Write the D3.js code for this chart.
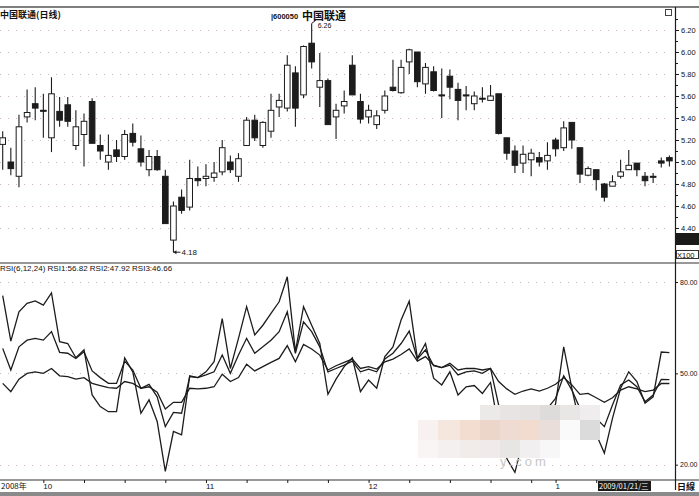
<!DOCTYPE html>
<html><head><meta charset="utf-8">
<script src="https://cdn.jsdelivr.net/npm/d3@7/dist/d3.min.js"></script>
<style>
html,body{margin:0;padding:0;background:#fff;}
svg{display:block;}
text{font-family:"Liberation Sans",Arial,sans-serif;fill:#111;}
.cjk{font-family:"Noto Sans CJK SC",sans-serif;}
</style></head>
<body>
<script>
const dates = ["2008-09-22","2008-09-23","2008-09-24","2008-09-25","2008-09-26","2008-09-29","2008-09-30",
"2008-10-08","2008-10-09","2008-10-10","2008-10-13","2008-10-14","2008-10-15","2008-10-16","2008-10-17",
"2008-10-20","2008-10-21","2008-10-22","2008-10-23","2008-10-24","2008-10-27","2008-10-28","2008-10-29","2008-10-30","2008-10-31",
"2008-11-03","2008-11-04","2008-11-05","2008-11-06","2008-11-07","2008-11-10","2008-11-11","2008-11-12","2008-11-13","2008-11-14",
"2008-11-17","2008-11-18","2008-11-19","2008-11-20","2008-11-21","2008-11-24","2008-11-25","2008-11-26","2008-11-27","2008-11-28",
"2008-12-01","2008-12-02","2008-12-03","2008-12-04","2008-12-05","2008-12-08","2008-12-09","2008-12-10","2008-12-11","2008-12-12",
"2008-12-15","2008-12-16","2008-12-17","2008-12-18","2008-12-19","2008-12-22","2008-12-23","2008-12-24","2008-12-25","2008-12-26",
"2008-12-29","2008-12-30","2008-12-31","2009-01-05","2009-01-06","2009-01-07","2009-01-08","2009-01-09",
"2009-01-12","2009-01-13","2009-01-14","2009-01-15","2009-01-16","2009-01-19","2009-01-20","2009-01-21","2009-01-22","2009-01-23"];
const open  = [5.16,5.00,4.87,5.41,5.53,5.47,5.22,5.46,5.52,5.15,5.25,5.55,5.15,5.00,5.11,5.05,5.26,5.12,4.93,5.05,4.87,4.29,4.68,4.59,4.85,4.85,4.86,4.91,5.00,4.87,5.15,5.38,5.15,5.28,5.50,5.49,5.81,5.61,6.08,5.68,5.74,5.41,5.51,5.88,5.55,5.41,5.34,5.47,5.68,5.63,5.91,6.00,5.71,5.82,5.61,5.78,5.66,5.61,5.53,5.58,5.56,5.62,5.22,5.10,4.99,5.02,5.04,5.01,5.20,5.13,5.36,5.13,4.88,4.93,4.80,4.78,4.87,4.93,4.99,4.87,4.87,5.01,5.04];
const high  = [5.28,5.13,5.43,5.66,5.68,5.62,5.77,5.59,5.59,5.47,5.44,5.58,5.25,5.25,5.20,5.29,5.35,5.24,5.11,5.11,4.93,4.64,4.75,5.02,4.96,4.98,5.00,5.20,5.06,5.08,5.41,5.43,5.37,5.62,5.62,5.97,5.87,6.06,6.26,5.99,5.76,5.53,5.65,5.97,5.62,5.52,5.47,5.65,5.93,5.93,6.03,6.00,5.90,5.87,5.85,5.84,5.72,5.69,5.64,5.68,5.70,5.62,5.22,5.15,5.15,5.12,5.09,5.18,5.22,5.37,5.36,5.13,4.96,4.93,4.81,4.88,5.02,5.11,4.99,4.91,4.90,5.04,5.06];
const low   = [4.93,4.88,4.77,5.36,5.38,5.22,5.09,5.32,5.32,5.11,4.96,5.17,5.02,4.93,5.00,5.02,5.14,4.96,4.87,4.92,4.44,4.18,4.53,4.56,4.78,4.78,4.82,4.88,4.90,4.82,5.15,5.19,5.13,5.22,5.41,5.46,5.32,5.58,5.85,5.50,5.34,5.21,5.44,5.61,5.35,5.35,5.30,5.44,5.64,5.62,5.80,5.68,5.62,5.64,5.40,5.57,5.38,5.47,5.47,5.54,5.56,5.25,5.02,4.90,4.90,4.87,4.96,4.93,5.05,5.10,5.12,4.81,4.87,4.74,4.64,4.78,4.85,4.93,4.87,4.78,4.81,4.95,4.96];
const close = [5.22,4.94,5.32,5.45,5.49,5.47,5.62,5.38,5.37,5.32,5.37,5.17,5.10,5.06,5.05,5.25,5.18,5.00,5.05,4.93,4.44,4.60,4.56,4.85,4.83,4.87,4.90,5.13,4.93,5.03,5.38,5.22,5.36,5.47,5.56,5.88,5.49,6.05,5.91,5.74,5.34,5.47,5.55,5.61,5.39,5.47,5.42,5.60,5.65,5.86,6.02,5.73,5.86,5.65,5.61,5.68,5.56,5.61,5.60,5.58,5.60,5.26,5.08,4.97,5.07,5.08,5.00,5.06,5.12,5.31,5.20,4.89,4.94,4.84,4.68,4.82,4.91,4.97,4.93,4.83,4.87,4.99,5.01];
const rsi1 = [75.5,60.6,70.2,73.0,73.8,72.4,76.4,60.4,59.8,55.1,57.7,42.9,39.1,37.4,37.4,55.1,50.5,36.9,41.3,34.2,17.8,30.9,29.8,49.2,48.6,50.5,53.8,68.0,51.6,61.5,71.9,62.6,65.8,69.7,73.5,81.7,57.1,71.9,65.8,59.8,43.1,48.1,52.2,55.1,44.0,47.8,45.1,55.5,58.7,67.5,73.7,54.9,59.8,48.4,46.2,50.5,42.9,45.6,46.0,43.4,47.0,32.0,22.0,17.5,28.0,30.0,28.0,33.0,40.0,58.7,45.1,33.0,36.0,30.0,23.8,35.2,45.1,50.5,47.3,40.2,42.3,57.0,56.82];
const rsi2 = [58.2,51.1,58.7,60.9,61.5,60.9,63.7,56.9,56.6,54.9,57.1,50.8,48.6,46.7,46.7,54.0,51.1,45.1,46.4,42.3,32.5,37.2,36.9,48.9,48.6,49.5,50.5,56.0,50.0,56.0,61.5,56.6,58.7,60.9,63.7,70.2,56.6,66.9,63.7,58.7,50.5,51.6,52.7,54.0,50.5,51.4,50.5,54.7,56.6,59.8,63.9,54.7,57.7,52.5,51.9,52.7,49.5,50.5,50.8,50.0,51.6,39.6,32.0,28.7,32.0,33.1,35.2,38.5,41.8,49.2,44.5,38.5,38.5,35.2,32.5,39.6,46.2,47.8,45.6,40.7,42.9,48.0,47.92];
const rsi3 = [46.7,44.0,48.1,50.0,50.5,50.0,51.6,49.2,48.9,48.1,48.6,46.7,46.0,45.3,45.1,47.3,46.7,45.1,45.6,43.8,38.3,40.5,40.5,45.1,44.9,45.1,45.6,49.7,47.3,48.6,53.0,50.8,52.2,53.6,54.9,59.1,53.8,59.5,58.0,56.0,51.1,52.5,53.6,54.7,51.6,52.2,51.4,53.8,54.7,56.2,58.0,54.0,55.5,52.7,51.9,53.3,51.1,51.6,51.6,51.1,51.6,47.3,44.9,43.1,44.2,44.9,44.2,45.1,46.4,48.6,46.2,43.1,43.4,42.0,40.5,42.0,44.5,45.6,44.9,44.0,44.5,46.7,46.66];
const priceTicks = [6.2,6.0,5.8,5.6,5.4,5.2,5.0,4.8,4.6,4.4];
const rsiTicks = [80,50,20];
const weekTicks = ["2008-09-29","2008-10-13","2008-10-20","2008-10-27","2008-11-03","2008-11-10","2008-11-17","2008-11-24","2008-12-01","2008-12-08","2008-12-15","2008-12-22","2008-12-29","2009-01-05","2009-01-12","2009-01-19"];
const monthLabels = [["2008-09-29","10"],["2008-11-03","11"],["2008-12-01","12"],["2009-01-05","1"]];

const W=699,H=496;
const svg=d3.select("body").append("svg").attr("width",W).attr("height",H);
const ink="#1c1c1c";
const x=d3.scalePoint().domain(dates).range([2.7,669.4]);
const yP=d3.scaleLinear().domain([4.4,6.2]).range([228,30]);
const yR=d3.scaleLinear().domain([20,80]).range([464.7,282]);
const axisX=675;

// gridlines
const grid=svg.append("g").attr("stroke","#cdb8b4").attr("stroke-width",1).attr("stroke-dasharray","1,7");
grid.selectAll("line.p").data(priceTicks).join("line").attr("x1",0).attr("x2",axisX-6)
 .attr("y1",d=>Math.round(yP(d))+0.5).attr("y2",d=>Math.round(yP(d))+0.5);
grid.selectAll("line.r").data(rsiTicks).join("line").attr("x1",0).attr("x2",axisX-6)
 .attr("y1",d=>Math.round(yR(d))+0.5).attr("y2",d=>Math.round(yR(d))+0.5);

// frame lines
svg.append("line").attr("x1",0).attr("x2",W).attr("y1",7).attr("y2",7).attr("stroke","#555").attr("stroke-width",1.6);
svg.append("line").attr("x1",0).attr("x2",W).attr("y1",263).attr("y2",263).attr("stroke","#333").attr("stroke-width",1.2);
svg.append("line").attr("x1",0).attr("x2",W).attr("y1",480).attr("y2",480).attr("stroke","#333").attr("stroke-width",1.2);

// right axes
const gP=svg.append("g").attr("transform",`translate(${axisX},0)`)
 .call(d3.axisRight(yP).tickValues(d3.range(4.3,6.31,0.1)).tickSize(3).tickFormat(""));
const gP2=svg.append("g").attr("transform",`translate(${axisX},0)`)
 .call(d3.axisRight(yP).tickValues(priceTicks).tickSize(4).tickPadding(2).tickFormat(d3.format(".2f")));
[gP,gP2].forEach(g=>{g.select(".domain").remove();g.selectAll("line").attr("stroke",ink);});
gP2.selectAll("text").attr("font-size",7.5).attr("fill",ink);
const gR=svg.append("g").attr("transform",`translate(${axisX},0)`)
 .call(d3.axisRight(yR).tickValues(rsiTicks).tickSize(3).tickPadding(2).tickFormat(d3.format(".2f")));
gR.select(".domain").remove();gR.selectAll("line").attr("stroke",ink);
gR.selectAll("text").attr("font-size",7).attr("fill",ink);
svg.append("line").attr("x1",axisX+0.5).attr("x2",axisX+0.5).attr("y1",7).attr("y2",490).attr("stroke",ink).attr("stroke-width",1.2);

// candles
const idx=d3.range(dates.length);
const bw=5.6;
const cg=svg.append("g");
cg.selectAll("line.w").data(idx).join("line")
 .attr("x1",i=>x(dates[i])).attr("x2",i=>x(dates[i]))
 .attr("y1",i=>yP(high[i])).attr("y2",i=>yP(low[i])).attr("stroke",ink).attr("stroke-width",1.1);
cg.selectAll("rect").data(idx).join("rect")
 .attr("x",i=>x(dates[i])-bw/2).attr("width",bw)
 .attr("y",i=>yP(Math.max(open[i],close[i])))
 .attr("height",i=>Math.max(1,Math.abs(yP(open[i])-yP(close[i]))))
 .attr("fill",i=>close[i]>open[i]?"#fff":ink)
 .attr("stroke",ink).attr("stroke-width",1);

// high / low marks
const iH=d3.maxIndex(high), iL=d3.minIndex(low);
svg.append("path").attr("d",`M${x(dates[iH])},${yP(high[iH])} l4,-3`).attr("stroke",ink).attr("fill","none");
svg.append("text").attr("x",x(dates[iH])+6).attr("y",yP(high[iH])+5).attr("font-size",7).text(high[iH].toFixed(2));
svg.append("path").attr("d",`M${x(dates[iL])},${yP(low[iL])} h7`).attr("stroke",ink);
svg.append("path").attr("d",`M${x(dates[iL])},${yP(low[iL])} l3,-2 v4 z`).attr("fill",ink);
svg.append("text").attr("x",x(dates[iL])+8).attr("y",yP(low[iL])+3).attr("font-size",8).text(low[iL].toFixed(2));

// RSI lines
const line=d3.line().x((d,i)=>x(dates[i])).y(d=>yR(d));
[rsi1,rsi2,rsi3].forEach(s=>{
 svg.append("path").datum(s).attr("d",line).attr("fill","none").attr("stroke",ink).attr("stroke-width",1.3);
});

// watermark mosaic
const mosaic=[[480,405,"#ece9e9"],[500,405,"#e8e4e4"],[520,405,"#e6e2e2"],[540,405,"#dedbdb"],[560,405,"#e9e6e6"],[580,405,"#efeded"],
[418,420,"#f7f1ef"],[438,420,"#f5e6de"],[460,420,"#f3ddd0"],[480,420,"#ecd6ca"],[500,420,"#efdbd1"],[520,420,"#f2dcd0"],[540,420,"#eadedb"],[560,420,"#fbfafa"],[580,420,"#dbdbdb"],
[418,440,"#f8f5f4"],[438,440,"#f4f0ef"],[460,440,"#f1ecea"],[480,440,"#f0ebea"],[500,440,"#e8e5e5"],[520,440,"#f1efef"],[540,440,"#f8f7f7"]];
svg.append("g").selectAll("rect").data(mosaic).join("rect")
 .attr("x",d=>d[0]).attr("y",d=>d[1]).attr("width",d=>d[0]===438?22:20).attr("height",d=>d[1]===440?18:20).attr("fill",d=>d[2]);
svg.append("text").attr("x",500).attr("y",466).attr("font-size",13).attr("letter-spacing",3).style("fill","#c8c8c8").text("y.com");

// titles
svg.append("text").attr("class","cjk").attr("x",0).attr("y",18).attr("font-size",9).attr("font-weight","bold").text("中国联通(日线)");
svg.append("text").attr("x",271).attr("y",19).attr("font-size",7.5).attr("font-weight","bold").text("|600050");
svg.append("text").attr("class","cjk").attr("x",302).attr("y",20).attr("font-size",11).attr("font-weight","bold").text("中国联通");
svg.append("text").attr("x",0).attr("y",271).attr("font-size",8).text("RSI(6,12,24) RSI1:"+rsi1[rsi1.length-1].toFixed(2)+" RSI2:"+rsi2[rsi2.length-1].toFixed(2)+" RSI3:"+rsi3[rsi3.length-1].toFixed(2));

// right side boxes
svg.append("rect").attr("x",665.5).attr("y",9.5).attr("width",6).attr("height",6).attr("fill","#fff").attr("stroke","#444");
svg.append("rect").attr("x",676).attr("y",233).attr("width",23).attr("height",12).attr("fill","#1a1a1a");
svg.append("rect").attr("x",676.5).attr("y",250.5).attr("width",22).attr("height",8).attr("fill","#fff").attr("stroke","#333");
svg.append("text").attr("x",677).attr("y",257.5).attr("font-size",7.5).text("X100");

// bottom axis
const bx=svg.append("g").attr("transform","translate(0,480)")
 .call(d3.axisBottom(x).tickValues(weekTicks).tickSize(3).tickFormat(""));
bx.select(".domain").remove();bx.selectAll("line").attr("stroke",ink);
svg.append("g").selectAll("text").data(monthLabels).join("text")
 .attr("x",d=>x(d[0])).attr("y",489).attr("font-size",8).text(d=>d[1]);
svg.append("text").attr("class","cjk").attr("x",1).attr("y",489).attr("font-size",8).text("2008年");
svg.append("rect").attr("x",598).attr("y",481).attr("width",53).attr("height",10).attr("fill","#1a1a1a");
svg.append("text").attr("class","cjk").attr("x",599).attr("y",489).attr("font-size",7.5).style("fill","#fff").text("2009/01/21/三");
svg.append("text").attr("class","cjk").attr("x",677).attr("y",490).attr("font-size",9).attr("font-weight","bold").text("日線");
svg.append("rect").attr("x",0).attr("y",492).attr("width",W).attr("height",4).attr("fill","#8a8a8a");
</script>
</body></html>
